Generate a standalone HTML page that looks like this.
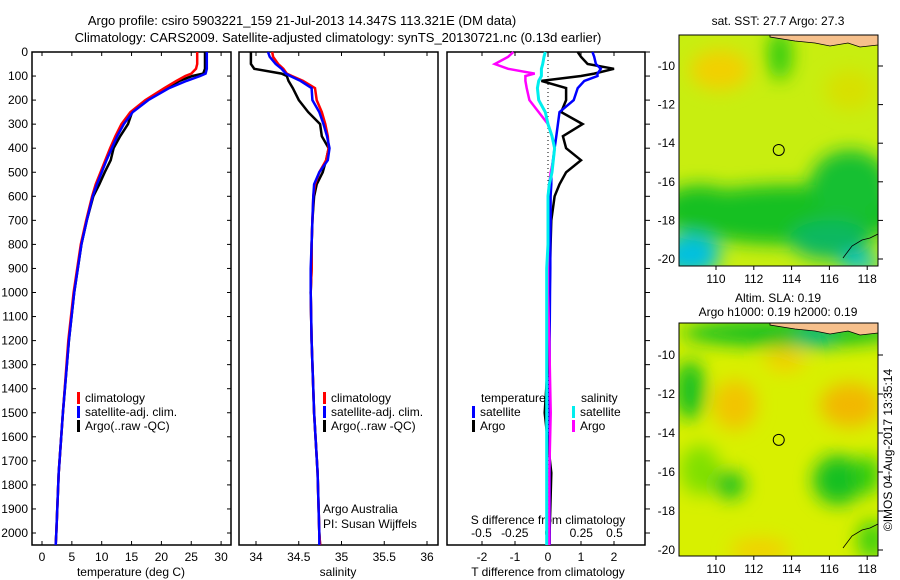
<!DOCTYPE html>
<html><head><meta charset="utf-8"><style>
body{margin:0;background:#fff}
svg{display:block;font-family:"Liberation Sans",sans-serif}
text{font-size:12px;fill:#000}
</style></head><body>
<svg id="c" width="900" height="580" viewBox="0 0 900 580">
<defs>
<filter id="bl" x="-50%" y="-50%" width="200%" height="200%"><feGaussianBlur stdDeviation="9"/></filter>
<clipPath id="m1"><rect x="679" y="35" width="199" height="231"/></clipPath>
<clipPath id="m2"><rect x="679" y="323" width="199" height="233"/></clipPath>
</defs>
<text x="302" y="25" text-anchor="middle" style="font-size:13px">Argo profile: csiro 5903221_159 21-Jul-2013 14.347S 113.321E (DM data)</text>
<text x="338" y="42" text-anchor="middle" style="font-size:13px">Climatology: CARS2009. Satellite-adjusted climatology: synTS_20130721.nc (0.13d earlier)</text>
<g id="plots"></g>
<g id="maps"></g>
<text transform="translate(892,450) rotate(-90)" text-anchor="middle">©IMOS 04-Aug-2017 13:35:14</text>
</svg>
<script>
const depths=[0,20,50,70,90,100,120,150,200,250,300,350,400,450,500,550,600,700,800,900,1000,1200,1500,1750,2000,2050];
const tempClim=[26.0,26.0,26.0,25.8,25.0,24.0,22.5,20.5,17.3,14.8,13.3,12.3,11.4,10.6,9.8,9.0,8.4,7.4,6.5,5.9,5.3,4.4,3.5,2.8,2.4,2.3];
const tempAdj=[27.6,27.6,27.6,27.6,27.4,26.5,24.2,21.3,17.8,15.2,13.7,12.6,11.7,10.8,10.0,9.2,8.5,7.5,6.6,6.0,5.4,4.5,3.5,2.8,2.4,2.3];
const tempArgo=[27.3,27.3,27.3,27.3,27.0,25.2,23.0,21.0,17.7,15.1,14.4,13.1,12.0,11.5,10.5,9.6,8.6,7.5,6.6,6.0,5.4,4.5,3.5,2.8,2.4,2.3];
const salClim=[34.19,34.2,34.26,34.32,34.36,34.42,34.55,34.69,34.71,34.77,34.81,34.84,34.85,34.82,34.74,34.69,34.67,34.66,34.65,34.65,34.64,34.65,34.68,34.72,34.74,34.75];
const salAdj=[34.14,34.16,34.23,34.3,34.35,34.4,34.52,34.65,34.66,34.74,34.79,34.83,34.86,34.84,34.74,34.68,34.67,34.66,34.65,34.64,34.64,34.65,34.68,34.72,34.74,34.74];
const salArgo=[33.94,33.94,33.94,33.98,34.3,34.36,34.38,34.43,34.5,34.61,34.75,34.77,34.85,34.82,34.78,34.71,34.68,34.66,34.65,34.65,34.64,34.65,34.68,34.72,34.74,34.75];
const tDiffSat=[1.35,1.4,1.45,1.6,1.5,1.5,1.1,0.9,0.78,0.35,0.3,0.25,0.2,0.15,0.1,0.1,0.08,0.08,0.07,0.07,0.06,0.05,0.05,0.05,0.05,0.05];
const tDiffArgo=[0.9,1.0,1.2,2.0,1.4,1.0,-0.2,0.55,0.55,0.4,1.05,0.45,0.55,1.0,0.55,0.35,0.2,0.1,0.08,0.06,0.05,0.04,-0.1,0.1,0.05,0.05];
const sDiffSat=[-0.02,-0.03,-0.04,-0.05,-0.05,-0.05,-0.07,-0.08,-0.07,-0.02,0.0,0.03,0.05,0.04,0.03,0.01,0.0,0.0,0.0,-0.01,-0.01,-0.01,-0.01,-0.01,-0.01,-0.01];
const sDiffArgo=[-0.26,-0.3,-0.4,-0.3,-0.1,-0.17,-0.17,-0.16,-0.14,-0.07,0.0,0.03,0.05,0.04,0.02,0.01,0.0,0.0,0.0,0.0,0.0,0.01,0.02,0.01,0.01,0.01];
const depthTicks=[0,100,200,300,400,500,600,700,800,900,1000,1100,1200,1300,1400,1500,1600,1700,1800,1900,2000];
const tTicks=[0,5,10,15,20,25,30];
const sTicks=[34,34.5,35,35.5,36];
const tdTicks=[-2,-1,0,1,2];
const sdTicks=[-0.5,-0.25,0,0.25,0.5];
const latTicks=[-10,-12,-14,-16,-18,-20];
const lonTicks=[110,112,114,116,118];

const NS='http://www.w3.org/2000/svg';
const plots=document.getElementById('plots');
function mk(tag,at,parent,txt){const e=document.createElementNS(NS,tag);for(const k in at)e.setAttribute(k,at[k]);if(txt!==undefined)e.textContent=txt;(parent||plots).appendChild(e);return e;}
const Y=d=>52+d*0.2405;
const xT=v=>42+v*5.97;
const xS=v=>256+(v-34)*85.5;
const xTD=v=>548+v*33;
const xSD=v=>548+v*133;
const PB=545;
function frame(x0,x1,name){const r=mk('rect',{x:x0,y:52,width:x1-x0,height:PB-52,fill:'none',stroke:'#000','stroke-width':1.5});

}
frame(32,231,'temperature-panel');frame(239,438,'salinity-panel');frame(447,645,'difference-panel');
depthTicks.forEach(d=>{const y=Y(d);
 const t=mk('text',{x:28,y:y+4,'text-anchor':'end'},null,String(d));
 
 
 mk('line',{x1:32,x2:36,y1:y,y2:y,stroke:'#000'});mk('line',{x1:227,x2:231,y1:y,y2:y,stroke:'#000'});
 mk('line',{x1:645,x2:650,y1:y,y2:y,stroke:'#000'});
});
function xticks(arr,f,y,name){arr.forEach(v=>{const x=f(v);mk('line',{x1:x,x2:x,y1:52,y2:56,stroke:'#000'});mk('line',{x1:x,x2:x,y1:PB,y2:PB-4,stroke:'#000'});
 const t=mk('text',{x:x,y:y,'text-anchor':'middle'},null,String(v));
 
 });}
xticks(tTicks,xT,561,'temperature-tick-label');
xticks(sTicks,xS,561,'salinity-tick-label');
xticks(tdTicks,xTD,561,'t-diff-tick-label');
sdTicks.forEach(v=>{const t=mk('text',{x:xSD(v),y:537,'text-anchor':'middle'},null,String(v));
 
 });
[['temperature (deg C)',131,'x-axis-title-temperature'],['salinity',338,'x-axis-title-salinity'],['T difference from climatology',548,'x-axis-title-tdiff']].forEach(a=>{
 const t=mk('text',{x:a[1],y:576,'text-anchor':'middle'},null,a[0]);
 
 });
const st=mk('text',{x:548,y:524,'text-anchor':'middle'},null,'S difference from climatology');


mk('line',{x1:548,x2:548,y1:52,y2:PB,stroke:'#000','stroke-dasharray':'1,3'});
function line(vals,f,color,w,name){const p=vals.map((v,i)=>f(v).toFixed(1)+','+Y(depths[i]).toFixed(1)).join(' ');
 const e=mk('polyline',{points:p,fill:'none',stroke:color,'stroke-width':w});
 
 }
line(tempArgo,xT,'#000',2.5,'temp-argo-line');line(tempClim,xT,'#f00',2.5,'temp-clim-line');line(tempAdj,xT,'#00f',2.5,'temp-adj-line');
line(salArgo,xS,'#000',2.5,'sal-argo-line');line(salClim,xS,'#f00',2.5,'sal-clim-line');line(salAdj,xS,'#00f',2.5,'sal-adj-line');
line(tDiffArgo,xTD,'#000',2.5,'tdiff-argo-line');line(tDiffSat,xTD,'#00f',2.5,'tdiff-sat-line');
line(sDiffArgo,xSD,'#f0f',2.5,'sdiff-argo-line');line(sDiffSat,xSD,'#0ee',3,'sdiff-sat-line');
function legend(x,y,items,name){items.forEach((it,i)=>{mk('rect',{x:x,y:y+i*14-10,width:3,height:12,fill:it[1]});
 const t=mk('text',{x:x+8,y:y+i*14},null,it[0]);
 
 });}
const L=[['climatology','#f00'],['satellite-adj. clim.','#00f'],['Argo(..raw -QC)','#000']];
legend(77,402,L,'temp-legend-entry');legend(323,402,L,'sal-legend-entry');
const lt=mk('text',{x:481,y:402},null,'temperature');
const ls=mk('text',{x:581,y:402},null,'salinity');
legend(472,416,[['satellite','#00f'],['Argo','#000']],'tdiff-legend-entry');
legend(572,416,[['satellite','#0ee'],['Argo','#f0f']],'sdiff-legend-entry');
const a1=mk('text',{x:323,y:513},null,'Argo Australia');
const a2=mk('text',{x:323,y:528},null,'PI: Susan Wijffels');

const maps=document.getElementById('maps');
function mp(tag,at,txt){return mk(tag,at,maps,txt);}
const lonX=v=>716+(v-110)*18.9;
function drawMap(y0,h,latY,clip,base,blobs,name,coastY){
 const g=mk('g',{'clip-path':'url(#'+clip+')'},maps);
 
 
 mk('rect',{x:679,y:y0,width:199,height:h,fill:base},g);
 const gb=mk('g',{filter:'url(#bl)'},g);
 blobs.forEach(b=>mk('ellipse',{cx:b[0],cy:b[1],rx:b[2],ry:b[3],fill:b[4]},gb));
 mk('path',{d:`M770 ${y0} L878 ${y0} L878 ${y0+10} L860 ${y0+12} L848 ${y0+8} L830 ${y0+11} L815 ${y0+8} L795 ${y0+6} L770 ${y0+2} Z`,fill:'#f6c08c',stroke:'#000','stroke-width':0.8},g);
 mk('path',{d:`M843 ${coastY+48} L852 ${coastY+36} L862 ${coastY+30} L870 ${coastY+28} L878 ${coastY+24}`,fill:'none',stroke:'#000','stroke-width':0.8},g);
 mk('rect',{x:679,y:y0,width:199,height:h,fill:'none',stroke:'#000'},maps);
 latTicks.forEach(l=>{const y=latY(l);mp('line',{x1:878,x2:883,y1:y,y2:y,stroke:'#000'});
  const t=mp('text',{x:675,y:y+4,'text-anchor':'end'},String(l));
  
  });
 lonTicks.forEach(v=>{const x=lonX(v);mp('line',{x1:x,x2:x,y1:y0+h,y2:y0+h+4,stroke:'#000'});
  const t=mp('text',{x:x,y:y0+h+17,'text-anchor':'middle'},String(v));
  
  });
 const c=mp('circle',{cx:lonX(113.32),cy:latY(-14.35),r:5.5,fill:'none',stroke:'#000'});
 
 
}
const lat1=l=>66+(-10-l)*19.3;
drawMap(35,231,lat1,'m1','#c8ee10',[
 [720,70,30,20,'#f2d000'],[780,55,12,25,'#30cc10'],[850,90,25,20,'#d8e000'],
 [790,215,120,30,'#18c020'],[700,210,40,25,'#18c020'],[850,185,40,35,'#18c030'],
 [830,240,40,20,'#10b860'],[690,255,30,20,'#00c0e0'],[860,262,20,8,'#00c0e0']
],'sst-map',210);
const lat2=l=>355+(-10-l)*19.5;
drawMap(323,233,lat2,'m2','#d8f000',[
 [790,333,110,14,'#18c020'],[815,338,20,10,'#00b880'],[690,390,15,30,'#18c020'],
 [735,405,22,25,'#f2c400'],[785,360,20,12,'#f2d000'],[850,405,30,22,'#f2b800'],
 [700,470,20,25,'#80e000'],[730,485,15,14,'#18c020'],[838,480,25,25,'#18c020'],[868,475,12,20,'#30cc10'],
 [760,550,30,12,'#f2d000'],[872,540,15,20,'#40d010']
],'sla-map',500);
const h1=mp('text',{x:778,y:25,'text-anchor':'middle'},'sat. SST: 27.7 Argo: 27.3');

const h2=mp('text',{x:778,y:302,'text-anchor':'middle'},'Altim. SLA: 0.19');

const h3=mp('text',{x:778,y:316,'text-anchor':'middle'},'Argo h1000: 0.19 h2000: 0.19');

</script>
</body></html>
